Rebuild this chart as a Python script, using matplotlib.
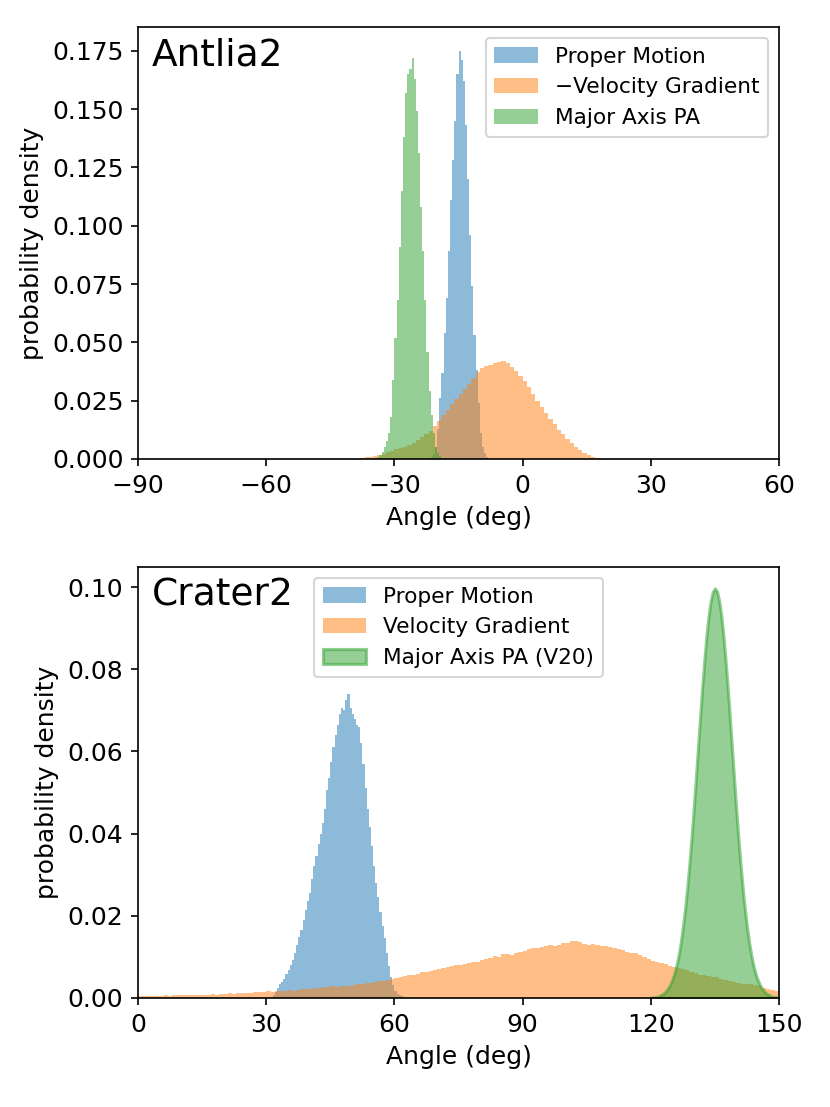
import numpy as np
import matplotlib
matplotlib.use("Agg")
import matplotlib.pyplot as plt

plt.rcParams["font.size"] = 12

# ---- Antlia2 (histogram bin heights) ----
ant_pm_start, ant_pm_width = -22.0, 0.5
ant_pm = [0.0005, 0.001, 0.002, 0.005, 0.013, 0.026, 0.037, 0.054, 0.069, 0.089,
          0.111, 0.128, 0.145, 0.165, 0.175, 0.171, 0.162, 0.143, 0.120, 0.096,
          0.074, 0.053, 0.038, 0.024, 0.011, 0.005, 0.0025, 0.001, 0.0004]

ant_vg_start, ant_vg_width = -39.0, 1.0
ant_vg = [0.0002, 0.0003, 0.0007, 0.0010, 0.0012, 0.0016, 0.0022, 0.0028, 0.0036, 0.0042,
          0.0047, 0.0052, 0.0060, 0.0068, 0.0080, 0.0095, 0.0108, 0.0122, 0.0142, 0.0162,
          0.0188, 0.0212, 0.0236, 0.0258, 0.0280, 0.0300, 0.0322, 0.0345, 0.0372, 0.0392,
          0.0400, 0.0405, 0.0410, 0.0415, 0.0422, 0.0412, 0.0395, 0.0375, 0.0355, 0.0335,
          0.0310, 0.0280, 0.0248, 0.0222, 0.0198, 0.0172, 0.0148, 0.0125, 0.0105, 0.0087,
          0.0070, 0.0052, 0.0038, 0.0026, 0.0016, 0.0010, 0.0005, 0.0002]

ant_pa_start, ant_pa_width = -35.0, 0.5
ant_pa = [0.0002, 0.0005, 0.001, 0.0018, 0.003, 0.005, 0.0075, 0.011, 0.018, 0.034,
          0.052, 0.068, 0.091, 0.115, 0.138, 0.157, 0.165, 0.167, 0.172, 0.163,
          0.149, 0.131, 0.108, 0.089, 0.068, 0.046, 0.029, 0.019, 0.011, 0.005,
          0.0025, 0.0012, 0.0006, 0.0003]

# ---- Crater2 ----
cra_pm_start, cra_pm_width = 31.0, 0.5
cra_pm = [0.0003, 0.0008, 0.0015, 0.0025, 0.0033, 0.0040, 0.0047, 0.0058, 0.0068, 0.0080,
          0.0092, 0.0110, 0.0130, 0.0148, 0.0165, 0.0190, 0.0215, 0.0235, 0.0255, 0.0290,
          0.0320, 0.0345, 0.0375, 0.0400, 0.0425, 0.0460, 0.0505, 0.0535, 0.0575, 0.0610,
          0.0640, 0.0665, 0.0690, 0.0705, 0.0700, 0.0725, 0.0740, 0.0705, 0.0690, 0.0680,
          0.0665, 0.0660, 0.0620, 0.0570, 0.0510, 0.0460, 0.0415, 0.0370, 0.0320, 0.0280,
          0.0245, 0.0210, 0.0175, 0.0145, 0.0110, 0.0078, 0.0050, 0.0032, 0.0018, 0.0010,
          0.0007, 0.0004, 0.0002]

cra_vg_start, cra_vg_width = 0.0, 1.0
cra_vg = [0.0004, 0.0004, 0.0005, 0.0004, 0.0005, 0.0005, 0.0006, 0.0005, 0.0006, 0.0006,
          0.0007, 0.0006, 0.0007, 0.0008, 0.0008, 0.0007, 0.0008, 0.0009, 0.0008, 0.0009,
          0.0010, 0.0011, 0.0010, 0.0011, 0.0012, 0.0013, 0.0012, 0.0014, 0.0015, 0.0014,
          0.0016, 0.0015, 0.0017, 0.0017, 0.0018, 0.0019, 0.0018, 0.0020, 0.0021, 0.0022,
          0.0023, 0.0024, 0.0024, 0.0026, 0.0027, 0.0028, 0.0027, 0.0029, 0.0030, 0.0029,
          0.0031, 0.0033, 0.0035, 0.0036, 0.0037, 0.0039, 0.0041, 0.0042, 0.0043, 0.0045,
          0.0048, 0.0050, 0.0053, 0.0055, 0.0057, 0.0059, 0.0062, 0.0064, 0.0066, 0.0068,
          0.0070, 0.0073, 0.0076, 0.0078, 0.0080, 0.0081, 0.0082, 0.0086, 0.0088, 0.0088,
          0.0092, 0.0095, 0.0097, 0.0102, 0.0100, 0.0106, 0.0108, 0.0105, 0.0110, 0.0111,
          0.0115, 0.0118, 0.0122, 0.0121, 0.0124, 0.0126, 0.0128, 0.0127, 0.0129, 0.0133,
          0.0134, 0.0139, 0.0138, 0.0135, 0.0131, 0.0130, 0.0131, 0.0128, 0.0126, 0.0127,
          0.0124, 0.0122, 0.0118, 0.0116, 0.0113, 0.0110, 0.0109, 0.0104, 0.0100, 0.0095,
          0.0091, 0.0088, 0.0085, 0.0082, 0.0079, 0.0076, 0.0073, 0.0070, 0.0067, 0.0063,
          0.0060, 0.0057, 0.0055, 0.0053, 0.0052, 0.0050, 0.0047, 0.0044, 0.0041, 0.0038,
          0.0036, 0.0035, 0.0034, 0.0033, 0.0031, 0.0028, 0.0024, 0.0021, 0.0019, 0.0018]

# V20 major axis PA curve (angle, density)
cra_pa_x = [120.0, 120.5, 121.0, 121.5, 122.0, 122.5, 123.0, 123.5, 124.0, 124.5,
            125.0, 125.5, 126.0, 126.5, 127.0, 127.5, 128.0, 128.5, 129.0, 129.5,
            130.0, 130.5, 131.0, 131.5, 132.0, 132.5, 133.0, 133.5, 134.0, 134.5,
            135.0, 135.5, 136.0, 136.5, 137.0, 137.5, 138.0, 138.5, 139.0, 139.5,
            140.0, 140.5, 141.0, 141.5, 142.0, 142.5, 143.0, 143.5, 144.0, 144.5,
            145.0, 145.5, 146.0, 146.5, 147.0, 147.5, 148.0, 148.5, 149.0, 149.5, 150.0]
cra_pa_y = [0.0001, 0.0001, 0.0002, 0.0003, 0.0005, 0.0008, 0.0011, 0.0016, 0.0023, 0.0032,
            0.0044, 0.0059, 0.0079, 0.0104, 0.0135, 0.0172, 0.0216, 0.0266, 0.0324, 0.0387,
            0.0456, 0.0530, 0.0605, 0.0680, 0.0753, 0.0820, 0.0880, 0.0929, 0.0966, 0.0989,
            0.0997, 0.0989, 0.0966, 0.0929, 0.0880, 0.0820, 0.0753, 0.0680, 0.0605, 0.0530,
            0.0456, 0.0387, 0.0324, 0.0266, 0.0216, 0.0172, 0.0135, 0.0104, 0.0079, 0.0059,
            0.0044, 0.0032, 0.0023, 0.0016, 0.0011, 0.0008, 0.0005, 0.0003, 0.0002, 0.0001, 0.0001]


def edges(start, width, n):
    return start + width * np.arange(n + 1)


fig = plt.figure(figsize=(830 / 150, 1107 / 150), dpi=150)
ax1 = fig.add_axes([0.1663, 0.5854, 0.7723, 0.3902])
ax2 = fig.add_axes([0.1663, 0.0985, 0.7723, 0.3893])

ax1.stairs(ant_pm, edges(ant_pm_start, ant_pm_width, len(ant_pm)), fill=True,
           color="C0", alpha=0.5, label="Proper Motion")
ax1.stairs(ant_vg, edges(ant_vg_start, ant_vg_width, len(ant_vg)), fill=True,
           color="C1", alpha=0.5, label="\u2212Velocity Gradient")
ax1.stairs(ant_pa, edges(ant_pa_start, ant_pa_width, len(ant_pa)), fill=True,
           color="C2", alpha=0.5, label="Major Axis PA")
ax1.set_xlim(-90, 60)
ax1.set_ylim(0, 0.1852)
ax1.set_xticks([-90, -60, -30, 0, 30, 60])
ax1.set_xlabel("Angle (deg)")
ax1.set_ylabel("probability density")
ax1.text(0.022, 0.975, "Antlia2", transform=ax1.transAxes, fontsize=18, va="top")
ax1.legend(loc="upper right", fontsize=10.4)

ax2.stairs(cra_pm, edges(cra_pm_start, cra_pm_width, len(cra_pm)), fill=True,
           color="C0", alpha=0.5, label="Proper Motion")
ax2.stairs(cra_vg, edges(cra_vg_start, cra_vg_width, len(cra_vg)), fill=True,
           color="C1", alpha=0.5, label="Velocity Gradient")
ax2.fill_between(cra_pa_x, cra_pa_y, color="C2", alpha=0.5, linewidth=1.5,
                 edgecolor="C2", label="Major Axis PA (V20)")
ax2.set_xlim(0, 150)
ax2.set_ylim(0, 0.1049)
ax2.set_xticks([0, 30, 60, 90, 120, 150])
ax2.set_xlabel("Angle (deg)")
ax2.set_ylabel("probability density")
ax2.text(0.022, 0.975, "Crater2", transform=ax2.transAxes, fontsize=18, va="top")
ax2.legend(loc="upper center", fontsize=10.4)

fig.savefig("out.png", dpi=150)
